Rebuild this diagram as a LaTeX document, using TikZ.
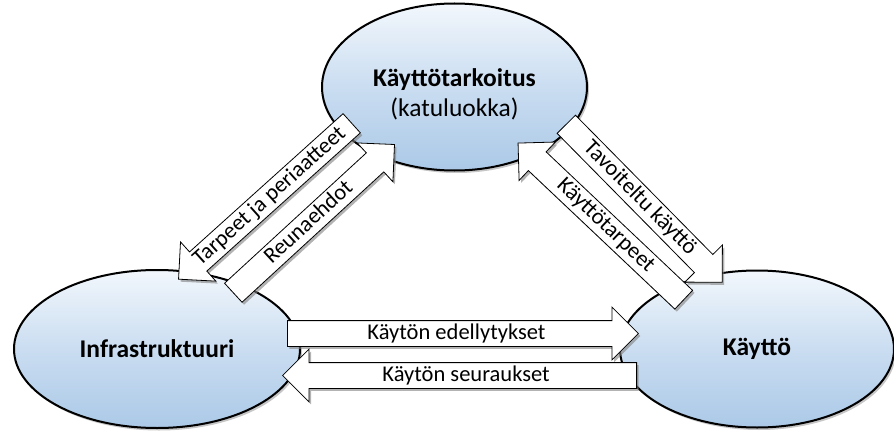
\documentclass[tikz,border=0pt]{standalone}
\usepackage{fontspec}
\setmainfont{Carlito}
\usetikzlibrary{shapes.geometric,shapes.arrows,shadows}
\definecolor{topc}{HTML}{F2F7FC}
\definecolor{midc}{HTML}{CADDF1}
\definecolor{botc}{HTML}{ABC9E7}
\begin{document}
\begin{tikzpicture}[x=1pt,y=-1pt,
  bubble/.style={ellipse, draw=black, line width=2pt, top color=topc,
    bottom color=botc, middle color=midc, align=center, inner sep=0pt,
    font=\fontsize{25.5}{30}\selectfont\bfseries,
    drop shadow={opacity=0.45, shadow xshift=2pt, shadow yshift=-2.5pt}},
  bubbletext/.style={align=center, inner sep=0pt, font=\fontsize{25.5}{30}\selectfont},
  blockarrow/.style={single arrow, draw=black, line width=0.8pt, fill=white,
    single arrow head extend=13.5pt, single arrow tip angle=90,
    inner xsep=0pt, inner ysep=1pt, text height=17pt, text depth=6pt,
    font=\fontsize{22.5}{26}\selectfont, anchor=tail,
    drop shadow={opacity=0.6, shadow xshift=2pt, shadow yshift=-2.5pt}},
]
\useasboundingbox (0,0) rectangle (894,433);
\node[bubble, minimum width=265pt, minimum height=167pt] (kt) at (454.5,87) {};
\node[bubbletext] (ktl) at ([yshift=-7pt]kt.center)
  {\textbf{Käyttötarkoitus}\\(katuluokka)};
\node[bubble, minimum width=286pt, minimum height=158pt] (inf) at (157,349) {Infrastruktuuri};
\node[bubble, minimum width=274pt, minimum height=157pt] (ka) at (757,349) {Käyttö};

\coordinate (t1) at (352,123);
\coordinate (t2) at (233,293);
\coordinate (t3) at (566,124);
\coordinate (t4) at (684,300);
\coordinate (t5) at (287,333.5);
\coordinate (t6) at (637,375.5);

\node[blockarrow, shape border rotate=180, rotate=42, minimum height=233pt] (a1) at (t1) {Tarpeet ja periaatteet};
\node[blockarrow, rotate=42.6, minimum height=219pt] (a2) at (t2) {Reunaehdot};
\node[blockarrow, rotate=-45.4, minimum height=222pt] (a3) at (t3) {Tavoiteltu käyttö};
\node[blockarrow, shape border rotate=180, rotate=-43.4, minimum height=228pt] (a4) at (t4) {Käyttötarpeet};
\node[blockarrow, minimum height=351pt] (a5) at (t5) {Käytön edellytykset};
\node[blockarrow, shape border rotate=180, minimum height=354pt] (a6) at (t6) {Käytön seuraukset};
\end{tikzpicture}
\end{document}
